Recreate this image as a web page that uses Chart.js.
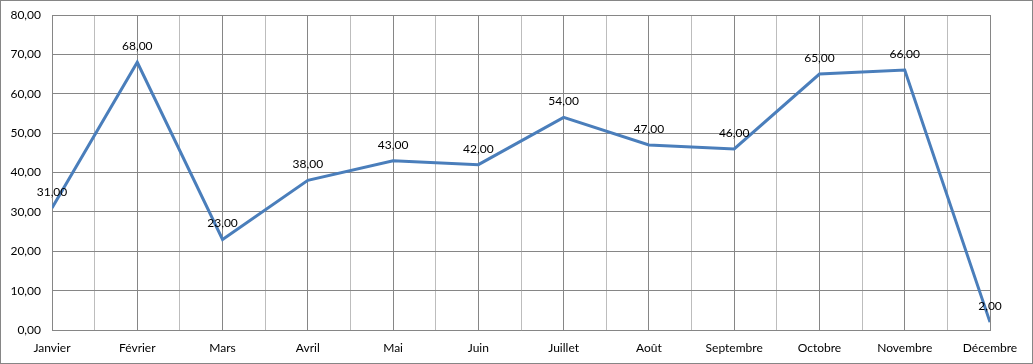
<!DOCTYPE html>
<html>
<head>
<meta charset="utf-8">
<script src="https://cdn.jsdelivr.net/npm/chart.js@4"></script>
<style>
  html, body { margin: 0; padding: 0; background: #fff; }
  #wrap { width: 1033px; height: 364px; position: relative; }
</style>
</head>
<body>
<div id="wrap"><canvas id="monthChart"></canvas></div>
<script>
// months + values
const months = ['Janvier', 'Février', 'Mars', 'Avril', 'Mai', 'Juin',
                'Juillet', 'Août', 'Septembre', 'Octobre', 'Novembre', 'Décembre'];
const values = [31, 68, 23, 38, 43, 42, 54, 47, 46, 65, 66, 2];
const yTicks = [0, 10, 20, 30, 40, 50, 60, 70, 80];

const FONT = 'Lato, "Open Sans", sans-serif';
const majorGrid = '#868686';
const minorGrid = '#bdbdbd';

function fmt(v) {
    return v.toFixed(2).replace('.', ',');
}

// value labels above each point + outer frame
const labelPlugin = {
    id: 'valueLabels',
    afterDatasetsDraw(chart) {
        const ctx = chart.ctx;
        const meta = chart.getDatasetMeta(0);
        ctx.save();
        ctx.font = '12px ' + FONT;
        ctx.fillStyle = '#000';
        ctx.textAlign = 'center';
        ctx.textBaseline = 'middle';
        meta.data.forEach((pt, i) => {
            ctx.fillText(fmt(values[i]), pt.x, pt.y - 16);
        });
        ctx.restore();
    },
    afterDraw(chart) {
        const ctx = chart.ctx;
        ctx.save();
        ctx.strokeStyle = '#868686';
        ctx.lineWidth = 1;
        ctx.strokeRect(0.5, 0.5, chart.width - 1, chart.height - 1);
        ctx.restore();
    }
};

new Chart(document.getElementById('monthChart').getContext('2d'), {
    type: 'line',
    data: {
        datasets: [{
            data: values.map((v, i) => ({ x: i, y: v })),
            borderColor: '#4a7ebb',
            borderWidth: 3,
            pointRadius: 0,
            tension: 0,
            fill: false
        }]
    },
    options: {
        responsive: true,
        maintainAspectRatio: false,
        animation: false,
        layout: { padding: { left: 0, top: 15, right: 43, bottom: 0 } },
        plugins: { legend: { display: false }, tooltip: { enabled: false } },
        scales: {
            x: {
                type: 'linear',
                min: 0,
                max: months.length - 1,
                afterFit: s => { s.height = 34; s.paddingLeft = 0; s.paddingRight = 0; },
                ticks: {
                    stepSize: 0.5,
                    maxTicksLimit: 40,
                    autoSkip: false,
                    maxRotation: 0,
                    padding: 11,
                    color: '#000',
                    font: { family: FONT, size: 12 },
                    callback: v => Number.isInteger(v) ? months[v] : ''
                },
                grid: {
                    drawTicks: false,
                    color: c => (c.tick && Number.isInteger(c.tick.value)) ? majorGrid : minorGrid
                },
                border: { color: majorGrid }
            },
            y: {
                min: 0,
                max: 80,
                afterFit: s => { s.width = 52; s.paddingTop = 0; s.paddingBottom = 0; },
                afterBuildTicks: s => { s.ticks = yTicks.map(v => ({ value: v })); },
                ticks: {
                    padding: 11,
                    color: '#000',
                    font: { family: FONT, size: 12 },
                    callback: v => fmt(v)
                },
                grid: { drawTicks: false, color: majorGrid },
                border: { color: majorGrid }
            }
        }
    },
    plugins: [labelPlugin]
});
</script>
</body>
</html>
